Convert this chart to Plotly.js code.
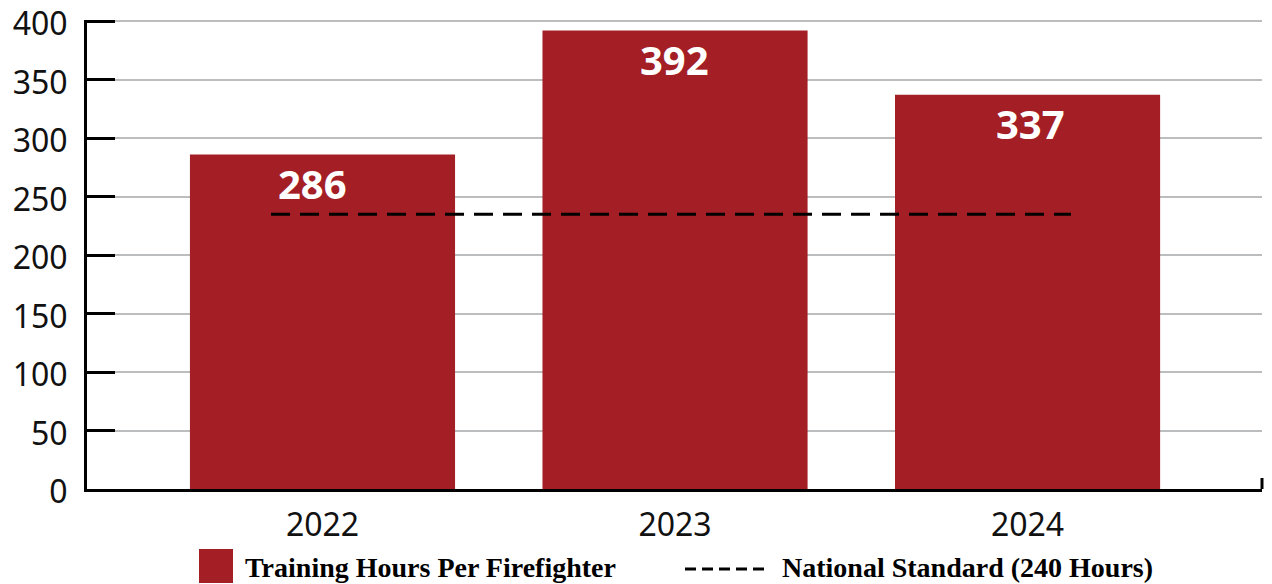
<!DOCTYPE html>
<html>
<head>
<meta charset="utf-8">
<script src="https://cdn.plot.ly/plotly-3.0.1.min.js"></script>
<style>html,body{margin:0;padding:0;background:#fff;}#chart{width:1272px;height:584px;}</style>
</head>
<body>
<div id="chart"></div>
<script>
// ---- data ----
const years = ['2022', '2023', '2024'];
const trainingHours = [286, 392, 337];
const standardX = [-0.146, 2.123];      // extent of the national-standard line (category index units)
const standardY = [235, 235];
const yTicks = [0, 50, 100, 150, 200, 250, 300, 350, 400];
const seriesNames = ['Training Hours Per Firefighter', 'National Standard (240 Hours)'];

// ---- chart ----
const red = '#A41E25';
const idx = years.map((_, i) => i);

const bars = {
  type: 'bar', x: idx, y: trainingHours, width: 0.752,
  marker: {color: red}, name: seriesNames[0], showlegend: false, hoverinfo: 'skip'
};
const standard = {
  type: 'scatter', mode: 'lines', x: standardX, y: standardY,
  line: {color: '#000', width: 3, dash: '19px,10px'}, name: seriesNames[1], showlegend: false, hoverinfo: 'skip'
};

const labelShift = [-10, -1, 3];
const annotations = trainingHours.map((v, i) => ({
  x: i, y: v, xref: 'x', yref: 'y', text: String(v), showarrow: false,
  yanchor: 'middle', xanchor: 'center', yshift: -29, xshift: labelShift[i],
  font: {family: 'Open Sans', size: 40, color: '#fff', weight: 700}
}));

const W = 1175, H = 469, L = 87, B = 489;
const px = x => (x - L) / W, py = y => (B - y) / H;
const legendFont = {family: 'Liberation Serif', size: 28, color: '#000', weight: 700};
annotations.push({xref: 'paper', yref: 'paper', x: px(243), y: py(567), xanchor: 'left', yanchor: 'middle',
  text: seriesNames[0], showarrow: false, font: legendFont});
annotations.push({xref: 'paper', yref: 'paper', x: px(780), y: py(567), xanchor: 'left', yanchor: 'middle',
  text: seriesNames[1], showarrow: false, font: legendFont});

const shapes = [
  {type: 'rect', xref: 'paper', yref: 'paper', x0: px(199), x1: px(233), y0: py(583), y1: py(549),
   fillcolor: red, line: {width: 0}},
  {type: 'line', xref: 'paper', yref: 'paper', x0: px(685), x1: px(765), y0: py(569), y1: py(569),
   line: {color: '#000', width: 3, dash: '11px,6px'}},
  {type: 'line', xref: 'paper', yref: 'paper', x0: 1, x1: 1, y0: 0, y1: 11 / H,
   line: {color: '#000', width: 3}}
];

const layout = {
  width: 1272, height: 584,
  margin: {l: 87, r: 10, t: 20, b: 95},
  paper_bgcolor: '#fff', plot_bgcolor: '#fff',
  showlegend: false,
  xaxis: {
    type: 'linear', range: [-0.668, 2.665], tickvals: idx, ticktext: years,
    showgrid: false, zeroline: false, showline: true, linecolor: '#000', linewidth: 3,
    ticks: '', ticklabelstandoff: 6,
    tickfont: {family: 'Noto Sans', size: 32, color: '#111'}
  },
  yaxis: {
    range: [0, 401], tickvals: yTicks, ticktext: yTicks.map(String),
    showgrid: true, gridcolor: '#BBBDBF', gridwidth: 2,
    zeroline: false, showline: true, linecolor: '#000', linewidth: 3,
    ticks: 'inside', ticklen: 28, tickwidth: 3, tickcolor: '#000',
    ticklabelstandoff: 10, ticklabelshift: 3,
    tickfont: {family: 'Noto Sans', size: 32, color: '#111'}
  },
  annotations: annotations,
  shapes: shapes
};

Plotly.newPlot('chart', [bars, standard], layout, {displayModeBar: false, staticPlot: true});
</script>
</body>
</html>
